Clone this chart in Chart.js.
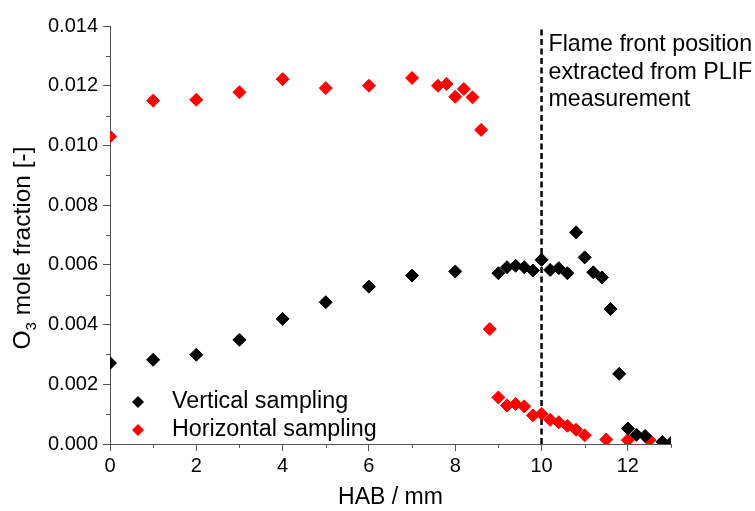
<!DOCTYPE html>
<html>
<head>
<meta charset="utf-8">
<script src="https://cdn.jsdelivr.net/npm/chart.js@4"></script>
<style>
  html, body { margin: 0; padding: 0; background: #fff; }
</style>
</head>
<body>
<canvas id="chart" width="755" height="511"></canvas>
<script>
// O3 mole fraction vs HAB
const vertX = [0, 1, 2, 3, 4, 5, 6, 7, 8, 9, 9.2, 9.4, 9.6, 9.8, 10, 10.2, 10.4, 10.6, 10.8, 11, 11.2, 11.4, 11.6, 11.8, 12, 12.2, 12.4, 12.8, 13];
const vertY = [0.00271, 0.00282, 0.00299, 0.00349, 0.00419, 0.00475, 0.00527, 0.00564, 0.00578, 0.00572, 0.00592, 0.00597, 0.00592, 0.00581, 0.00617, 0.00583, 0.00589, 0.00572, 0.00709, 0.00625, 0.00575, 0.00558, 0.00452, 0.00235, 0.00052, 0.00031, 0.00027, 0.00007, 0.00003];

const horizX = [0, 1, 2, 3, 4, 5, 6, 7, 7.6, 7.8, 8, 8.2, 8.4, 8.6, 8.8, 9, 9.2, 9.4, 9.6, 9.8, 10, 10.2, 10.4, 10.6, 10.8, 11, 11.5, 12, 12.5];
const horizY = [0.0103, 0.0115, 0.01153, 0.01178, 0.01222, 0.01192, 0.012, 0.01226, 0.012, 0.01206, 0.01163, 0.01189, 0.01161, 0.01052, 0.00385, 0.00156, 0.00129, 0.00134, 0.00126, 0.00096, 0.00101, 0.00081, 0.00073, 0.00061, 0.00048, 0.00029, 0.00015, 0.00013, 0.00013];

const xTicks = [0, 2, 4, 6, 8, 10, 12];
const xMinorTicks = [1, 3, 5, 7, 9, 11, 13];
const yTicks = [0, 0.002, 0.004, 0.006, 0.008, 0.010, 0.012, 0.014];
const yMinorTicks = [0.001, 0.003, 0.005, 0.007, 0.009, 0.011, 0.013];

const flameFrontX = 10;
const noteLines = ["Flame front position", "extracted from PLIF", "measurement"];
const legendItems = [
  { label: "Vertical sampling", color: "#000000" },
  { label: "Horizontal sampling", color: "#ff0000" },
];

const FONT = "'Liberation Sans', Arial, sans-serif";
const AXIS_COLOR = "#555";

const toPoints = (xs, ys) => xs.map((x, i) => ({ x, y: ys[i] }));

// minor ticks, y title with subscript, in-plot legend and note
const decorations = {
  id: "decorations",
  afterDraw(chart) {
    const { ctx, chartArea, scales } = chart;
    const xs = scales.x, ys = scales.y;
    ctx.save();

    ctx.strokeStyle = AXIS_COLOR;
    ctx.lineWidth = 1;
    ctx.beginPath();
    xMinorTicks.forEach((v) => {
      const px = Math.round(xs.getPixelForValue(v)) + 0.5;
      ctx.moveTo(px, chartArea.bottom);
      ctx.lineTo(px, chartArea.bottom + 4);
    });
    yMinorTicks.forEach((v) => {
      const py = Math.round(ys.getPixelForValue(v)) + 0.5;
      ctx.moveTo(chartArea.left, py);
      ctx.lineTo(chartArea.left - 4, py);
    });
    ctx.stroke();

    // y axis title: O3 mole fraction [-]
    const big = "24.5px " + FONT, small = "15px " + FONT;
    ctx.fillStyle = "#000";
    ctx.textBaseline = "alphabetic";
    ctx.font = big;
    const wO = ctx.measureText("O").width;
    const rest = " mole fraction [-]";
    const wRest = ctx.measureText(rest).width;
    ctx.font = small;
    const w3 = ctx.measureText("3").width;
    const total = wO + w3 + wRest;
    ctx.translate(30, (chartArea.top + chartArea.bottom) / 2 + 13);
    ctx.rotate(-Math.PI / 2);
    let cx = -total / 2;
    ctx.font = big;
    ctx.fillText("O", cx, 0);
    cx += wO;
    ctx.font = small;
    ctx.fillText("3", cx, 6);
    cx += w3;
    ctx.font = big;
    ctx.fillText(rest, cx, 0);
    ctx.setTransform(1, 0, 0, 1, 0, 0);

    // legend inside plot, bottom left
    ctx.font = "23.3px " + FONT;
    ctx.textBaseline = "middle";
    legendItems.forEach((item, i) => {
      const y = chartArea.bottom - 42 + i * 28;
      const x = chartArea.left + 28;
      ctx.fillStyle = item.color;
      ctx.beginPath();
      ctx.moveTo(x - 6, y);
      ctx.lineTo(x, y - 6);
      ctx.lineTo(x + 6, y);
      ctx.lineTo(x, y + 6);
      ctx.closePath();
      ctx.fill();
      ctx.fillStyle = "#000";
      ctx.fillText(item.label, x + 34, y);
    });

    // note next to flame front line
    ctx.font = "23.2px " + FONT;
    ctx.textBaseline = "alphabetic";
    const nx = xs.getPixelForValue(flameFrontX) + 7;
    noteLines.forEach((line, i) => {
      ctx.fillText(line, nx, chartArea.top + 25 + i * 27.5);
    });

    ctx.restore();
  },
};

new Chart(document.getElementById("chart"), {
  type: "scatter",
  data: {
    datasets: [
      {
        label: "Vertical sampling",
        data: toPoints(vertX, vertY),
        pointStyle: "rectRot",
        pointRadius: 6.5,
        pointBorderWidth: 1,
        backgroundColor: "#000000",
        borderColor: "#000000",
        clip: 0,
      },
      {
        label: "Horizontal sampling",
        data: toPoints(horizX, horizY),
        pointStyle: "rectRot",
        pointRadius: 6.5,
        pointBorderWidth: 1,
        backgroundColor: "#ff0000",
        borderColor: "#ff0000",
        clip: 0,
      },
      {
        label: "Flame front",
        data: [{ x: flameFrontX, y: 0 }, { x: flameFrontX, y: 0.014 }],
        showLine: true,
        pointRadius: 0,
        borderColor: "#000",
        borderWidth: 2.5,
        borderDash: [6, 3.5],
        clip: 0,
      },
    ],
  },
  options: {
    responsive: false,
    animation: false,
    layout: { padding: { left: 0, top: 26, right: 84, bottom: 0 } },
    plugins: {
      legend: { display: false },
      tooltip: { enabled: false },
    },
    scales: {
      x: {
        type: "linear",
        min: 0,
        max: 13,
        afterBuildTicks: (scale) => { scale.ticks = xTicks.map((v) => ({ value: v })); },
        afterFit: (scale) => { scale.height = 67; },
        border: { color: AXIS_COLOR, width: 1 },
        grid: { drawOnChartArea: false, drawTicks: true, tickLength: 7, tickColor: AXIS_COLOR },
        ticks: { color: "#000", font: { family: FONT, size: 20 }, padding: 3, maxRotation: 0 },
        title: { display: true, text: "HAB / mm", color: "#000", font: { family: FONT, size: 23 }, padding: { top: 8, bottom: 0 } },
      },
      y: {
        type: "linear",
        min: 0,
        max: 0.014,
        afterBuildTicks: (scale) => { scale.ticks = yTicks.map((v) => ({ value: v })); },
        afterFit: (scale) => { scale.width = 110; },
        border: { color: AXIS_COLOR, width: 1 },
        grid: { drawOnChartArea: false, drawTicks: true, tickLength: 7, tickColor: AXIS_COLOR },
        ticks: {
          color: "#000",
          font: { family: FONT, size: 20 },
          padding: 5,
          callback: (v) => Number(v).toFixed(3),
        },
      },
    },
  },
  plugins: [decorations],
});
</script>
</body>
</html>
